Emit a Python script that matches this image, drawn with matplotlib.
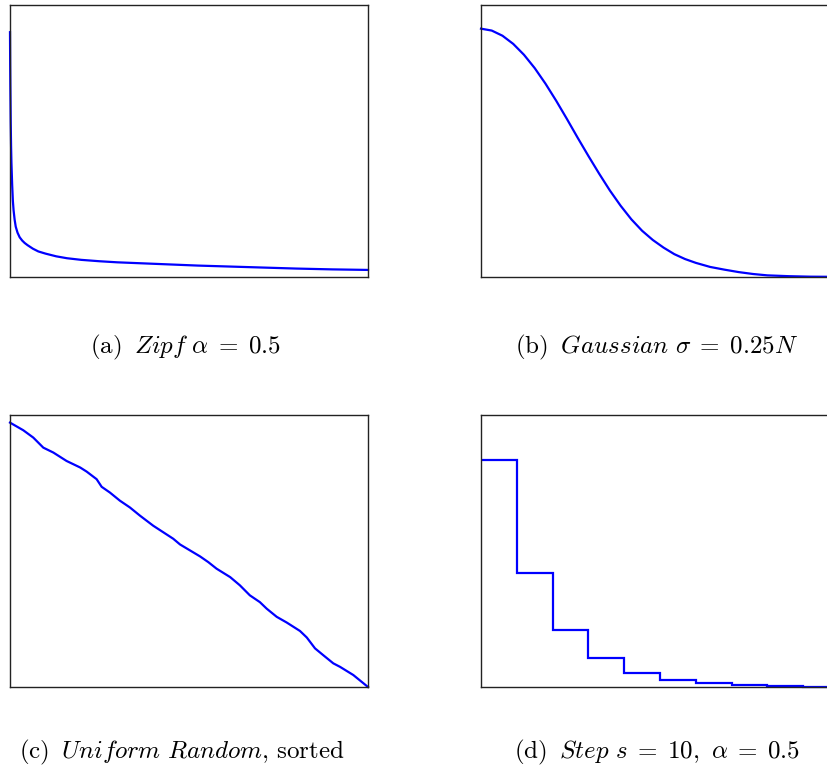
"""4種類の分布 (Zipf, Gaussian, Uniform Random, Step) の形を並べて描く"""

import matplotlib
matplotlib.use('Agg')
import matplotlib.pyplot as plt
import numpy as np

plt.rcParams['mathtext.fontset'] = 'cm'

## 図から読み取った値 (縦軸は枠の高さに対する割合)
# (a) Zipf alpha=0.5 : 順位 1..1000
zipf_rank = [1, 1.5, 2, 3, 4, 5, 6, 7, 9, 11, 14, 17, 22, 28, 35, 42, 50, 65, 80,
             100, 130, 160, 200, 250, 300, 375, 450, 525, 600, 700, 800, 900, 1000]
zipf_val = [0.90, 0.78, 0.70, 0.57, 0.48, 0.42, 0.38, 0.34, 0.28, 0.245, 0.21, 0.185,
            0.163, 0.146, 0.134, 0.125, 0.117, 0.104, 0.094, 0.086, 0.076, 0.069,
            0.063, 0.058, 0.054, 0.050, 0.046, 0.042, 0.039, 0.035, 0.031, 0.028, 0.026]

# (b) Gaussian sigma=0.25N : 横軸は N に対する割合
gauss_x = [0.0, 0.03, 0.06, 0.09, 0.12, 0.15, 0.18, 0.21, 0.24, 0.27, 0.30, 0.33,
           0.36, 0.39, 0.42, 0.45, 0.48, 0.51, 0.54, 0.57, 0.60, 0.64, 0.68, 0.72,
           0.76, 0.80, 0.86, 0.92, 1.0]
gauss_val = [0.913, 0.906, 0.887, 0.857, 0.817, 0.768, 0.711, 0.648, 0.581, 0.512,
             0.445, 0.380, 0.318, 0.262, 0.212, 0.170, 0.136, 0.108, 0.084, 0.066,
             0.052, 0.037, 0.027, 0.018, 0.011, 0.006, 0.003, 0.0012, 0.0005]

# (c) Uniform Random, sorted
unif_x = [0.0, 0.037, 0.065, 0.093, 0.121, 0.158, 0.196, 0.214, 0.242, 0.256,
          0.279, 0.307, 0.335, 0.363, 0.400, 0.428, 0.456, 0.475, 0.503, 0.531,
          0.554, 0.577, 0.615, 0.642, 0.670, 0.698, 0.717, 0.745, 0.773, 0.810,
          0.829, 0.852, 0.875, 0.903, 0.922, 0.959, 1.0]
unif_val = [0.972, 0.944, 0.917, 0.880, 0.862, 0.831, 0.807, 0.792, 0.764, 0.736,
            0.715, 0.685, 0.660, 0.630, 0.593, 0.569, 0.545, 0.524, 0.502, 0.480,
            0.459, 0.435, 0.404, 0.374, 0.337, 0.312, 0.288, 0.258, 0.237, 0.206,
            0.182, 0.142, 0.117, 0.087, 0.074, 0.044, 0.0]

# (d) Step s=10, alpha=0.5
step_edges = [0.0, 0.1, 0.2, 0.3, 0.4, 0.5, 0.6, 0.7, 0.8, 0.9, 1.0]
step_val = [0.835, 0.418, 0.210, 0.105, 0.052, 0.026, 0.013, 0.0065, 0.0033, 0.0016]

captions = [r'$\mathrm{(a)}\;\;\mathit{Zipf}\ \alpha\;=\;0.5$',
            r'$\mathrm{(b)}\;\;\mathit{Gaussian}\ \sigma\;=\;0.25N$',
            r'$\mathrm{(c)}\;\;\mathit{Uniform\ Random}\mathrm{,\,sorted}$',
            r'$\mathrm{(d)}\;\;\mathit{Step}\ s\;=\;10,\ \alpha\;=\;0.5$']

## 描画
fig = plt.figure(figsize=(8.28, 7.71), dpi=100)
w = 358/828.
h = 272/771.
ax_a = fig.add_axes([10/828., 1-277/771., w, h])
ax_b = fig.add_axes([481/828., 1-277/771., w, h])
ax_c = fig.add_axes([10/828., 1-687/771., w, h])
ax_d = fig.add_axes([481/828., 1-687/771., w, h])

ax_a.plot(zipf_rank, zipf_val, color='blue', lw=1.6, clip_on=False)
ax_a.set_xlim(1, 1000)
ax_b.plot(gauss_x, gauss_val, color='blue', lw=1.6, clip_on=False)
ax_b.set_xlim(0, 1)
ax_c.plot(unif_x, unif_val, color='blue', lw=1.6, clip_on=False)
ax_c.set_xlim(0, 1)
ax_d.stairs(step_val, step_edges, baseline=None, color='blue', lw=1.6, clip_on=False)
ax_d.set_xlim(0, 1)

for ax in [ax_a, ax_b, ax_c, ax_d]:
    ax.set_ylim(0, 1)
    ax.set_xticks([])
    ax.set_yticks([])
    for sp in ax.spines.values():
        sp.set_linewidth(1.0)
        sp.set_color('#222222')

## サブキャプション (パネルの中央下)
fig.text(185/828., 1-347/771., captions[0], ha='center', va='center', fontsize=18)
fig.text(657/828., 1-347/771., captions[1], ha='center', va='center', fontsize=18)
fig.text(182/828., 1-752/771., captions[2], ha='center', va='center', fontsize=18)
fig.text(657/828., 1-752/771., captions[3], ha='center', va='center', fontsize=18)

fig.savefig('out.png', dpi=100)
